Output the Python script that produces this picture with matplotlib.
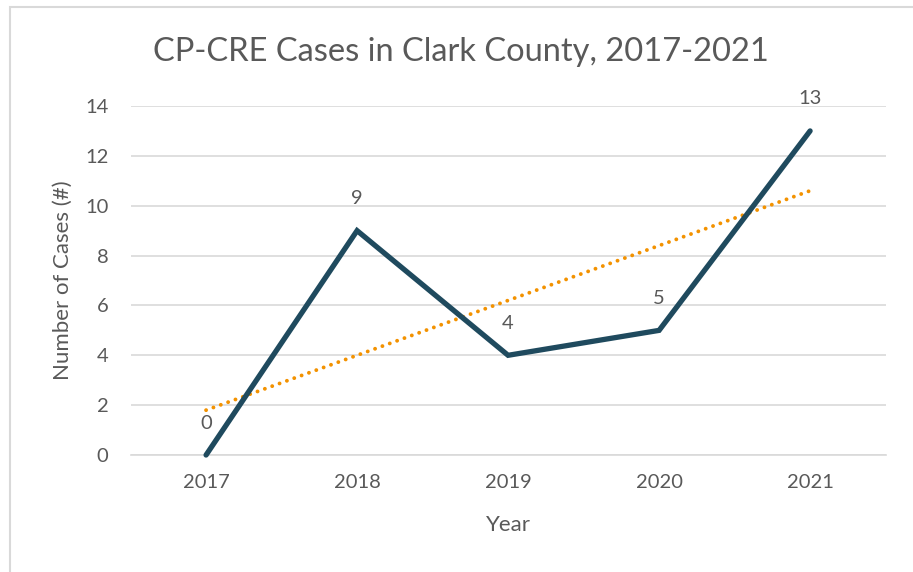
import numpy as np
import matplotlib.pyplot as plt
from matplotlib.patches import Rectangle

years = ["2017", "2018", "2019", "2020", "2021"]
cases = [0, 9, 4, 5, 13]

text_color = "#595959"
line_color = "#1f4a5e"
trend_color = "#f39200"

plt.rcParams['font.family'] = ['Lato', 'DejaVu Sans']

fig = plt.figure(figsize=(9.13, 5.72), dpi=100)
ax = fig.add_axes([0.143, 0.2045, 0.827, 0.6102])

x = np.arange(len(years))
ax.plot(x, cases, color=line_color, lw=3.8, solid_joinstyle='miter',
        solid_capstyle='round', clip_on=False, zorder=3)

# linear trendline
m, b = np.polyfit(x, cases, 1)
ax.plot(x, m * x + b, color=trend_color, lw=2.8, linestyle=(0, (0.01, 2.0)),
        dash_capstyle='round', zorder=2)

for xi, v in zip(x, cases):
    ax.annotate(str(v), (xi, v), xytext=(0, 23), textcoords='offset points',
                ha='center', va='center', fontsize=14.5, color=text_color)

ax.set_xlim(-0.5, len(years) - 0.5)
ax.set_ylim(0, 14)
ax.set_xticks(x)
ax.set_xticklabels(years)
ax.set_yticks(range(0, 15, 2))
ax.tick_params(length=0, labelsize=14.5, labelcolor=text_color)
ax.tick_params(axis='y', pad=16)
ax.tick_params(axis='x', pad=14)
ax.grid(axis='y', color='#d9d9d9', lw=1.2)
ax.set_axisbelow(True)
for s in ax.spines.values():
    s.set_visible(False)
ax.spines['bottom'].set_visible(True)
ax.spines['bottom'].set_color('#d9d9d9')
ax.spines['bottom'].set_linewidth(1.2)

ax.set_xlabel("Year", fontsize=16, color=text_color, labelpad=17)
ax.set_ylabel("Number of Cases (#)", fontsize=16, color=text_color, labelpad=9)
fig.text(0.505, 0.909, "CP-CRE Cases in Clark County, 2017-2021", ha='center', va='center',
         fontsize=23.5, color=text_color)

# chart border
fig.patches.append(Rectangle((10 / 913, -0.1), 1.2, 1.1 - 7 / 572, transform=fig.transFigure,
                             fill=False, edgecolor='#d9d9d9', lw=1.5))

fig.savefig("out.png", dpi=100)
